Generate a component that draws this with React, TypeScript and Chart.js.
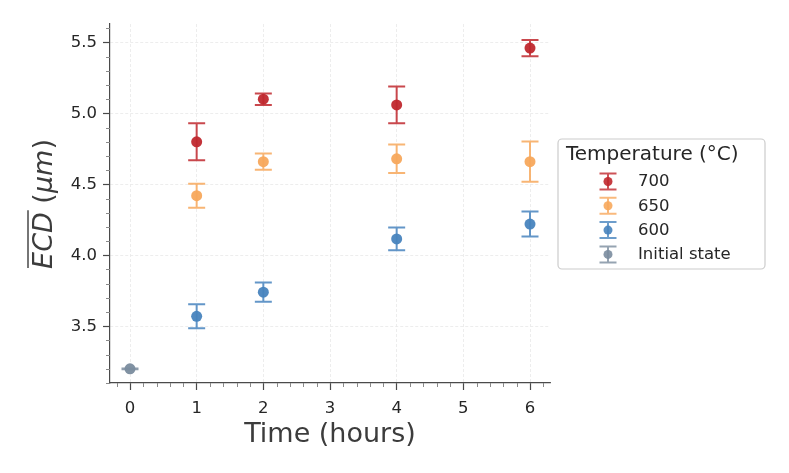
import { useEffect, useRef } from "react";
import { Chart, registerables, Plugin } from "chart.js";

Chart.register(...registerables);

// time points (hours) and mean ECD (µm) with error half-widths
const TIMES = [1, 2, 4, 6];
const ECD_700 = [4.8, 5.1, 5.06, 5.46];
const ERR_700 = [0.13, 0.04, 0.13, 0.057];
const ECD_650 = [4.42, 4.66, 4.68, 4.66];
const ERR_650 = [0.085, 0.058, 0.1, 0.142];
const ECD_600 = [3.57, 3.74, 4.115, 4.22];
const ERR_600 = [0.085, 0.068, 0.08, 0.088];
const INIT_TIME = [0];
const ECD_INIT = [3.2];
const ERR_INIT = [0.003];

const X_TICKS = [0, 1, 2, 3, 4, 5, 6];
const Y_TICKS = [3.5, 4.0, 4.5, 5.0, 5.5];

const SERIES = [
  { label: "700", color: "rgb(192,40,46)", x: TIMES, y: ECD_700, err: ERR_700 },
  { label: "650", color: "rgb(247,168,92)", x: TIMES, y: ECD_650, err: ERR_650 },
  { label: "600", color: "rgb(72,132,190)", x: TIMES, y: ECD_600, err: ERR_600 },
  { label: "Initial state", color: "rgb(122,140,158)", x: INIT_TIME, y: ECD_INIT, err: ERR_INIT },
];

const FONT = "'DejaVu Sans', sans-serif";
const AXIS_COLOR = "#4a4a4a";

function withAlpha(rgb: string, a: number) {
  return rgb.replace("rgb(", "rgba(").replace(")", `,${a})`);
}

// vertical error bars with caps, drawn under the markers
const errorBars: Plugin = {
  id: "errorBars",
  beforeDatasetsDraw(chart) {
    const { ctx } = chart;
    const xs = chart.scales.x;
    const ys = chart.scales.y;
    SERIES.forEach((s) => {
      ctx.save();
      ctx.strokeStyle = withAlpha(s.color, 0.85);
      ctx.lineWidth = 2;
      s.x.forEach((t, j) => {
        const px = xs.getPixelForValue(t);
        const lo = ys.getPixelForValue(s.y[j] - s.err[j]);
        const hi = ys.getPixelForValue(s.y[j] + s.err[j]);
        ctx.beginPath();
        ctx.moveTo(px, lo);
        ctx.lineTo(px, hi);
        ctx.moveTo(px - 8.5, lo);
        ctx.lineTo(px + 8.5, lo);
        ctx.moveTo(px - 8.5, hi);
        ctx.lineTo(px + 8.5, hi);
        ctx.stroke();
      });
      ctx.restore();
    });
  },
};

// minor ticks, matplotlib style
const minorTicks: Plugin = {
  id: "minorTicks",
  afterDraw(chart) {
    const { ctx, chartArea } = chart;
    const xs = chart.scales.x;
    const ys = chart.scales.y;
    ctx.save();
    ctx.strokeStyle = "#8a8a8a";
    ctx.lineWidth = 1;
    ctx.beginPath();
    for (let i = -1; i <= 31; i++) {
      if (i % 5 === 0) continue;
      const px = Math.round(xs.getPixelForValue(i * 0.2)) + 0.5;
      ctx.moveTo(px, chartArea.bottom);
      ctx.lineTo(px, chartArea.bottom + 4);
    }
    for (let i = 31; i <= 56; i++) {
      if (i % 5 === 0) continue;
      const py = Math.round(ys.getPixelForValue(i / 10)) + 0.5;
      ctx.moveTo(chartArea.left, py);
      ctx.lineTo(chartArea.left - 4, py);
    }
    ctx.stroke();
    ctx.restore();
  },
};

// y axis title with overline over ECD
const yTitle: Plugin = {
  id: "yTitle",
  afterDraw(chart) {
    const { ctx } = chart;
    const size = 27;
    const parts = [
      { t: "ECD", f: `italic ${size}px ${FONT}` },
      { t: " (", f: `${size}px ${FONT}` },
      { t: "μm", f: `italic ${size}px ${FONT}` },
      { t: ")", f: `${size}px ${FONT}` },
    ];
    ctx.save();
    let total = 0;
    const widths = parts.map((p) => {
      ctx.font = p.f;
      const w = ctx.measureText(p.t).width;
      total += w;
      return w;
    });
    ctx.translate(45, 204);
    ctx.rotate(-Math.PI / 2);
    ctx.fillStyle = "#3c3c3c";
    ctx.textBaseline = "middle";
    ctx.textAlign = "left";
    let x = -total / 2;
    parts.forEach((p, i) => {
      ctx.font = p.f;
      ctx.fillText(p.t, x, 0);
      x += widths[i];
    });
    ctx.strokeStyle = "#3c3c3c";
    ctx.lineWidth = 1.4;
    ctx.beginPath();
    ctx.moveTo(-total / 2 + 1, -17);
    ctx.lineTo(-total / 2 + widths[0] + 2, -17);
    ctx.stroke();
    ctx.restore();
  },
};

// legend box on the right
const boxLegend: Plugin = {
  id: "boxLegend",
  afterDraw(chart) {
    const { ctx } = chart;
    const bx = 558;
    const by = 139;
    const bw = 207;
    const bh = 130;
    ctx.save();
    ctx.fillStyle = "rgba(255,255,255,0.8)";
    ctx.strokeStyle = "#cccccc";
    ctx.lineWidth = 1.2;
    ctx.beginPath();
    ctx.roundRect(bx, by, bw, bh, 4);
    ctx.fill();
    ctx.stroke();
    ctx.fillStyle = "#262626";
    ctx.textBaseline = "middle";
    ctx.textAlign = "left";
    ctx.font = `20px ${FONT}`;
    ctx.fillText("Temperature (°C)", 566, 155);
    ctx.font = `16.5px ${FONT}`;
    SERIES.forEach((s, i) => {
      const cy = 181.5 + i * 24.3;
      const cx = 608;
      ctx.strokeStyle = withAlpha(s.color, 0.8);
      ctx.lineWidth = 2;
      ctx.beginPath();
      ctx.moveTo(cx, cy - 8);
      ctx.lineTo(cx, cy + 8);
      ctx.moveTo(cx - 8.5, cy - 8);
      ctx.lineTo(cx + 8.5, cy - 8);
      ctx.moveTo(cx - 8.5, cy + 8);
      ctx.lineTo(cx + 8.5, cy + 8);
      ctx.stroke();
      ctx.fillStyle = withAlpha(s.color, 0.9);
      ctx.beginPath();
      ctx.arc(cx, cy, 4.5, 0, Math.PI * 2);
      ctx.fill();
      ctx.fillStyle = "#262626";
      ctx.fillText(s.label, 638, cy + 0.5);
    });
    ctx.restore();
  },
};

export default function App() {
  const canvasRef = useRef<HTMLCanvasElement>(null);
  const chartRef = useRef<Chart | null>(null);

  useEffect(() => {
    if (!canvasRef.current) return;
    if (chartRef.current) chartRef.current.destroy();
    document.body.style.margin = "0";

    chartRef.current = new Chart(canvasRef.current, {
      type: "scatter",
      data: {
        datasets: SERIES.map((s) => ({
          label: s.label,
          data: s.x.map((t, j) => ({ x: t, y: s.y[j] })),
          backgroundColor: withAlpha(s.color, 0.95),
          borderWidth: 0,
          pointRadius: 5.5,
          pointHoverRadius: 5.5,
        })),
      },
      options: {
        animation: false,
        responsive: true,
        maintainAspectRatio: false,
        layout: { padding: { top: 24, right: 239, bottom: 0, left: 0 } },
        plugins: {
          legend: { display: false },
          tooltip: { enabled: false },
        },
        scales: {
          x: {
            type: "linear",
            min: -0.3,
            max: 6.3,
            afterBuildTicks: (scale) => {
              scale.ticks = X_TICKS.map((v) => ({ value: v }));
            },
            afterFit: (scale) => {
              scale.height = 90;
            },
            grid: {
              color: "#e9e9e9",
              lineWidth: 0.8,
              tickLength: 7,
              tickColor: AXIS_COLOR,
              tickWidth: 1.2,
            },
            border: { color: AXIS_COLOR, width: 1.2, dash: [3, 2] },
            ticks: {
              font: { family: FONT, size: 16.5 },
              color: "#262626",
              padding: 9,
              callback: (v) => String(v),
            },
            title: {
              display: true,
              text: "Time (hours)",
              font: { family: FONT, size: 27 },
              color: "#3c3c3c",
              padding: { top: 0, bottom: 22 },
            },
          },
          y: {
            type: "linear",
            min: 3.1,
            max: 5.63,
            afterBuildTicks: (scale) => {
              scale.ticks = Y_TICKS.map((v) => ({ value: v }));
            },
            afterFit: (scale) => {
              scale.width = 110;
            },
            grid: {
              color: "#e9e9e9",
              lineWidth: 0.8,
              tickLength: 7,
              tickColor: AXIS_COLOR,
              tickWidth: 1.2,
            },
            border: { color: AXIS_COLOR, width: 1.2, dash: [3, 2] },
            ticks: {
              font: { family: FONT, size: 16.5 },
              color: "#262626",
              padding: 6,
              callback: (v) => Number(v).toFixed(1),
            },
          },
        },
      },
      plugins: [errorBars, minorTicks, yTitle, boxLegend],
    });

    return () => {
      if (chartRef.current) {
        chartRef.current.destroy();
        chartRef.current = null;
      }
    };
  }, []);

  return (
    <div style={{ position: "absolute", left: 0, top: 0, width: 789, height: 473 }}>
      <canvas ref={canvasRef} />
    </div>
  );
}
